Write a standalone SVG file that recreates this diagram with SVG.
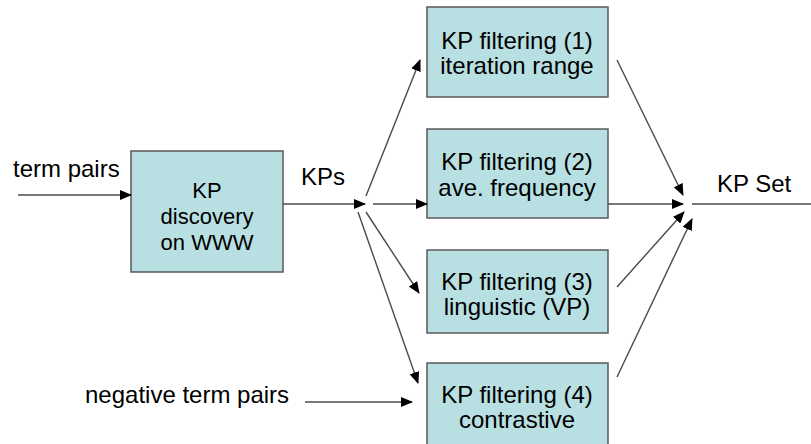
<svg xmlns="http://www.w3.org/2000/svg" width="811" height="444" viewBox="0 0 811 444">
<defs>
<style>
.box{fill:#b8dfe2;stroke:#5a5a5a;stroke-width:1.5}
.t{font-family:"Liberation Sans",Arial,sans-serif;font-size:24px;fill:#000}
.s{font-size:22px}
.c{text-anchor:middle}
.ln{stroke:#4a4a4a;stroke-width:1.4;fill:none}
</style>
<marker id="ah" markerUnits="userSpaceOnUse" markerWidth="12" markerHeight="10" viewBox="0 0 12 10" refX="11" refY="5" orient="auto">
<path d="M0,0 L12,5 L0,10 Z" fill="#000"/>
</marker>
</defs>
<rect width="811" height="444" fill="#fff"/>
<g id="n-discovery">
<rect class="box" x="131" y="151" width="152" height="121"/>
<text class="t s c" x="207" y="198">KP</text>
<text class="t s c" x="207" y="224">discovery</text>
<text class="t s c" x="207" y="250">on WWW</text>
</g>
<g id="n-f1">
<rect class="box" x="427" y="7" width="181" height="90"/>
<text class="t c" x="517" y="49">KP filtering (1)</text>
<text class="t c" x="517" y="74">iteration range</text>
</g>
<g id="n-f2">
<rect class="box" x="427" y="129" width="181" height="89"/>
<text class="t c" x="517" y="170">KP filtering (2)</text>
<text class="t c" x="517" y="196">ave. frequency</text>
</g>
<g id="n-f3">
<rect class="box" x="427" y="250" width="181" height="83"/>
<text class="t c" x="517" y="290">KP filtering (3)</text>
<text class="t c" x="517" y="315">linguistic (VP)</text>
</g>
<g id="n-f4">
<rect class="box" x="427" y="363" width="181" height="90"/>
<text class="t c" x="517" y="403">KP filtering (4)</text>
<text class="t c" x="517" y="428">contrastive</text>
</g>
<g id="labels">
<text class="t" x="13" y="177">term pairs</text>
<text class="t" x="301" y="185">KPs</text>
<text class="t" x="717" y="192">KP Set</text>
<text class="t" x="85" y="403">negative term pairs</text>
</g>
<g id="connectors">
<line class="ln" x1="18" y1="195" x2="131" y2="195" marker-end="url(#ah)"/>
<line class="ln" x1="283" y1="204" x2="365" y2="204" marker-end="url(#ah)"/>
<line class="ln" x1="366" y1="196" x2="420" y2="60" marker-end="url(#ah)"/>
<line class="ln" x1="373" y1="204" x2="427" y2="204" marker-end="url(#ah)"/>
<line class="ln" x1="366" y1="212" x2="419" y2="293" marker-end="url(#ah)"/>
<line class="ln" x1="358" y1="212" x2="418" y2="383" marker-end="url(#ah)"/>
<line class="ln" x1="305" y1="402" x2="412" y2="402" marker-end="url(#ah)"/>
<line class="ln" x1="617" y1="60" x2="683" y2="195" marker-end="url(#ah)"/>
<line class="ln" x1="608" y1="204" x2="683" y2="204" marker-end="url(#ah)"/>
<line class="ln" x1="617" y1="287" x2="684" y2="212" marker-end="url(#ah)"/>
<line class="ln" x1="617" y1="377" x2="692" y2="219" marker-end="url(#ah)"/>
<line class="ln" x1="692" y1="204" x2="811" y2="204"/>
</g>
</svg>
